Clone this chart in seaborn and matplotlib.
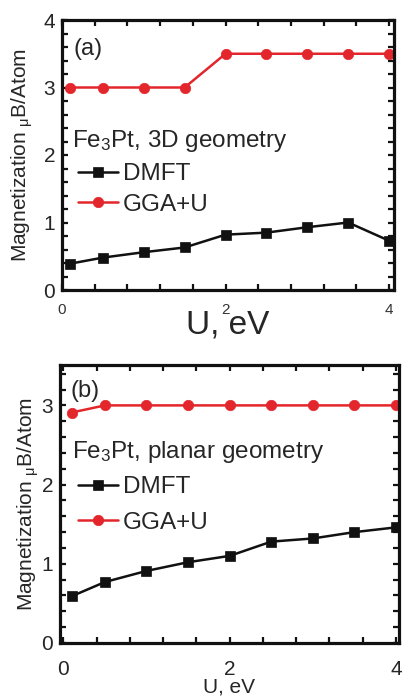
import matplotlib
matplotlib.use("Agg")
import matplotlib.pyplot as plt
import seaborn as sns
import pandas as pd
from matplotlib.ticker import MultipleLocator, FixedLocator

# ---- data ----
u_vals = [0.1, 0.5, 1.0, 1.5, 2.0, 2.5, 3.0, 3.5, 4.0]
dmft_3d = [0.39, 0.48, 0.56, 0.63, 0.82, 0.85, 0.93, 1.00, 0.73]
gga_3d = [3.0, 3.0, 3.0, 3.0, 3.5, 3.5, 3.5, 3.5, 3.5]
dmft_planar = [0.59, 0.77, 0.91, 1.02, 1.10, 1.28, 1.32, 1.40, 1.46]
gga_planar = [2.91, 3.0, 3.0, 3.0, 3.0, 3.0, 3.0, 3.0, 3.0]
series_names = ["DMFT", "GGA+U"]
xtick_vals = [0, 2, 4]
ytick_a = [0, 1, 2, 3, 4]
ytick_b = [0, 1, 2, 3]

sns.set_style("ticks")
plt.rcParams["font.family"] = ["Liberation Sans", "DejaVu Sans"]
plt.rcParams["mathtext.fontset"] = "custom"
plt.rcParams["mathtext.rm"] = "Liberation Sans"
plt.rcParams["mathtext.it"] = "Liberation Sans:italic"
plt.rcParams["mathtext.bf"] = "Liberation Sans:bold"

RED = "#e3262b"
BLK = "#111111"

fig = plt.figure(figsize=(4.03, 6.96), dpi=100)
ax_a = fig.add_axes([62/403, 1-290/696, 332/403, 270/696])
ax_b = fig.add_axes([60/403, 1-643/696, 339/403, 278/696])

def draw(ax, dm, gg):
    df = pd.DataFrame({"U": u_vals, "DMFT": dm, "GGA": gg})
    sns.lineplot(data=df, x="U", y="DMFT", ax=ax, color=BLK, marker="s",
                 markersize=7, markeredgecolor=BLK, markeredgewidth=0.5,
                 linewidth=1.8, label=series_names[0])
    sns.lineplot(data=df, x="U", y="GGA", ax=ax, color=RED, marker="o",
                 markersize=7.5, markeredgecolor=RED, markeredgewidth=0.5,
                 linewidth=1.8, label=series_names[1])
    for s in ax.spines.values():
        s.set_linewidth(2.3)
        s.set_color(BLK)
    ax.xaxis.set_major_locator(FixedLocator(xtick_vals))
    ax.xaxis.set_minor_locator(MultipleLocator(0.4))
    ax.yaxis.set_major_locator(MultipleLocator(1))
    ax.yaxis.set_minor_locator(MultipleLocator(0.2))
    ax.tick_params(which="both", direction="in", top=True, right=True,
                   length=4.5, width=1.6, color=BLK)

ylab = r"Magnetization ${}_{\mathrm{\mu}}$B/Atom"

# ---- panel (a) ----
draw(ax_a, dmft_3d, gga_3d)
ax_a.set_xlim(0, 4.06)
ax_a.set_ylim(0, 4)
ax_a.set_yticks(ytick_a)
ax_a.tick_params(axis="x", which="major", labelsize=11, pad=9, labelcolor="#333333")
ax_a.tick_params(axis="y", which="major", labelsize=15, pad=5)
ax_a.set_xlabel("U, eV", fontsize=24, labelpad=-5)
ax_a.set_ylabel(ylab, fontsize=15)
ax_a.yaxis.set_label_coords(-0.08, 0.5)
ax_a.text(0.036, 0.893, "(a)", transform=ax_a.transAxes, fontsize=17, va="center", ha="left")
ax_a.text(0.030, 0.530, r"Fe$_{\mathregular{3}}$Pt, 3D geometry", transform=ax_a.transAxes,
          fontsize=17.5, va="baseline", ha="left")
ax_a.legend(loc="upper left", bbox_to_anchor=(0.048, 0.47), frameon=False, fontsize=17.5,
            handlelength=1.65, handletextpad=0.2, labelspacing=0.35, borderpad=0,
            borderaxespad=0)

# ---- panel (b) ----
draw(ax_b, dmft_planar, gga_planar)
ax_b.set_xlim(-0.04, 4.036)
ax_b.set_ylim(0, 3.51)
ax_b.set_yticks(ytick_b)
ax_b.tick_params(axis="x", which="major", labelsize=15, pad=12)
ax_b.tick_params(axis="y", which="major", labelsize=15, pad=5)
ax_b.set_xlabel("U, eV", fontsize=15, labelpad=-0.5)
ax_b.set_ylabel(ylab, fontsize=15)
ax_b.yaxis.set_label_coords(-0.055, 0.5)
ax_b.text(0.032, 0.906, "(b)", transform=ax_b.transAxes, fontsize=17, va="center", ha="left")
ax_b.text(0.035, 0.665, r"Fe$_{3}$Pt, planar geometry", transform=ax_b.transAxes,
          fontsize=17.5, va="baseline", ha="left")
ax_b.legend(loc="upper left", bbox_to_anchor=(0.053, 0.6), frameon=False, fontsize=17.5,
            handlelength=1.65, handletextpad=0.2, labelspacing=0.55, borderpad=0,
            borderaxespad=0)

fig.savefig("out.png", dpi=100)
